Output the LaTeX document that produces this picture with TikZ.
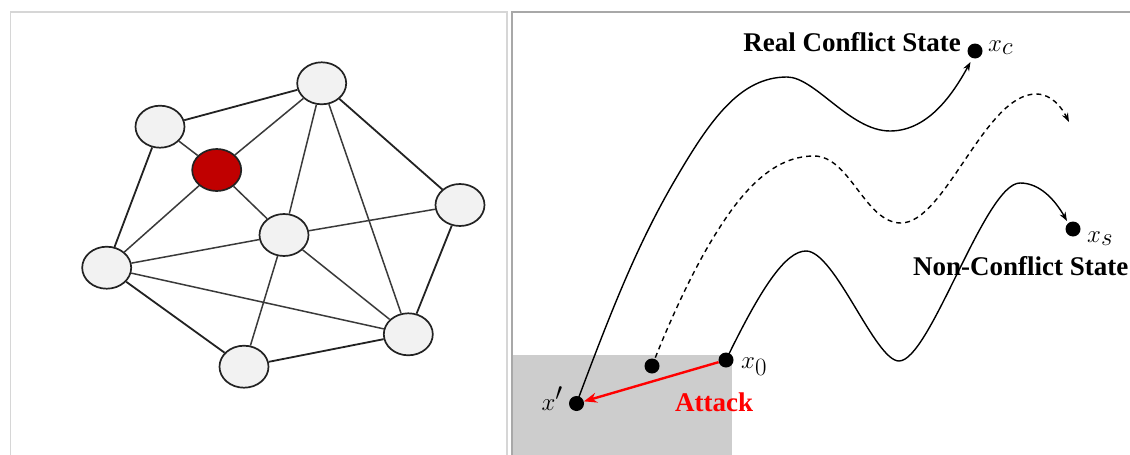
\documentclass[tikz,border=0pt]{standalone}
\usepackage{fontspec}
\setmainfont{Liberation Serif}
\usetikzlibrary{arrows.meta,shapes.geometric}
\definecolor{nodefill}{HTML}{F2F2F2}
\definecolor{edgedark}{HTML}{222222}
\definecolor{edgemid}{HTML}{3A3A3A}
\definecolor{frameL}{HTML}{D6D6D6}
\definecolor{frameR}{HTML}{A8A8A8}
\definecolor{boxgray}{HTML}{CDCDCD}
\begin{document}
\begin{tikzpicture}[x=1pt,y=-1pt,
  gnode/.style={ellipse, draw=edgedark, line width=1.7pt, fill=nodefill, minimum width=49pt, minimum height=42pt, inner sep=0pt},
  outer/.style={draw=edgedark, line width=1.8pt},
  inner/.style={draw=edgemid, line width=1.5pt},
  dot/.style={circle, fill=black, minimum size=15pt, inner sep=0pt},
  traj/.style={line width=1.4pt, -{Stealth[length=9pt,width=6.5pt]}},
  lbl/.style={font=\fontsize{27}{32}\selectfont\bfseries, inner sep=0pt},
  mlbl/.style={font=\fontsize{34}{40}\selectfont, inner sep=0pt}]
\useasboundingbox (0,0) rectangle (1130,455);
\clip (0,0) rectangle (1130,455);
\fill[white] (0,0) rectangle (1130,455);
% frames
\draw[frameL, line width=1.5pt] (10.7,470) -- (10.7,12) -- (507,12) -- (507,470);
\fill[boxgray] (513,355) rectangle (732,470);
\draw[frameR, line width=1.5pt] (512,470) -- (512,12) -- (1140,12);
% graph
\node[gnode] (A) at (321.7,83.3) {};
\node[gnode] (B) at (160,126.7) {};
\node[gnode, fill={rgb,255:red,192;green,0;blue,0}] (R) at (216.7,170) {};
\node[gnode] (C) at (284,235) {};
\node[gnode] (D) at (460,205) {};
\node[gnode] (E) at (106.7,267.7) {};
\node[gnode] (F) at (408.3,334.3) {};
\node[gnode] (G) at (244,366.7) {};
\draw[outer] (B) -- (A);
\draw[outer] (B) -- (E);
\draw[outer] (A) -- (D);
\draw[outer] (D) -- (F);
\draw[outer] (E) -- (G);
\draw[outer] (G) -- (F);
\draw[inner] (B) -- (R);
\draw[inner] (A) -- (R);
\draw[inner] (R) -- (E);
\draw[inner] (R) -- (C);
\draw[inner] (A) -- (C);
\draw[inner] (A) -- (F);
\draw[inner] (C) -- (D);
\draw[inner] (C) -- (E);
\draw[inner] (C) -- (G);
\draw[inner] (C) -- (F);
\draw[inner] (E) -- (F);
% trajectories
\node[dot] (xp) at (576.5,403.5) {};
\node[dot] (xm) at (652,366) {};
\node[dot] (x0) at (726,360) {};
\node[dot] (xc) at (975,51) {};
\node[dot] (xs) at (1073,229) {};
\coordinate (ce) at (970.5,62);
\coordinate (de) at (1069,122);
\coordinate (se) at (1067,221);
\draw[traj] (xp.center) .. controls (615,300) and (640,240) .. (675,180)
  .. controls (710,120) and (740,77) .. (787,77)
  .. controls (815,77) and (850,131) .. (890,131)
  .. controls (930,131) and (955,90) .. (ce);
\draw[traj, dashed, dash pattern=on 5pt off 4pt] (xm.center) .. controls (670,320) and (695,265) .. (720,227)
  .. controls (750,180) and (780,156) .. (814,156)
  .. controls (850,156) and (865,223) .. (901,223)
  .. controls (945,223) and (985,94) .. (1036,94)
  .. controls (1052,94) and (1062,108) .. (de);
\draw[traj] (x0.center) .. controls (760,290) and (785,251) .. (806,251)
  .. controls (835,251) and (875,361) .. (899,361)
  .. controls (930,361) and (985,183) .. (1020,183)
  .. controls (1040,183) and (1055,200) .. (se);
\draw[red, line width=2.4pt, -{Stealth[length=13pt,width=10pt]}] (x0) -- (xp);
% labels
\node[lbl, anchor=base east] (tRC) at (961,51) {Real Conflict State};
\node[mlbl, anchor=base west] (lxc) at (988,51) {$x_c$};
\node[mlbl, anchor=base west] (lxs) at (1087,242) {$x_s$};
\node[lbl, anchor=base west] (tNC) at (913,275) {Non-Conflict State};
\node[mlbl, anchor=base west] (lx0) at (741,368) {$x_0$};
\node[mlbl, anchor=base east] (lxp) at (563,410) {$x'$};
\node[lbl, red, anchor=base west] (tAt) at (675,411) {Attack};
\end{tikzpicture}
\end{document}
